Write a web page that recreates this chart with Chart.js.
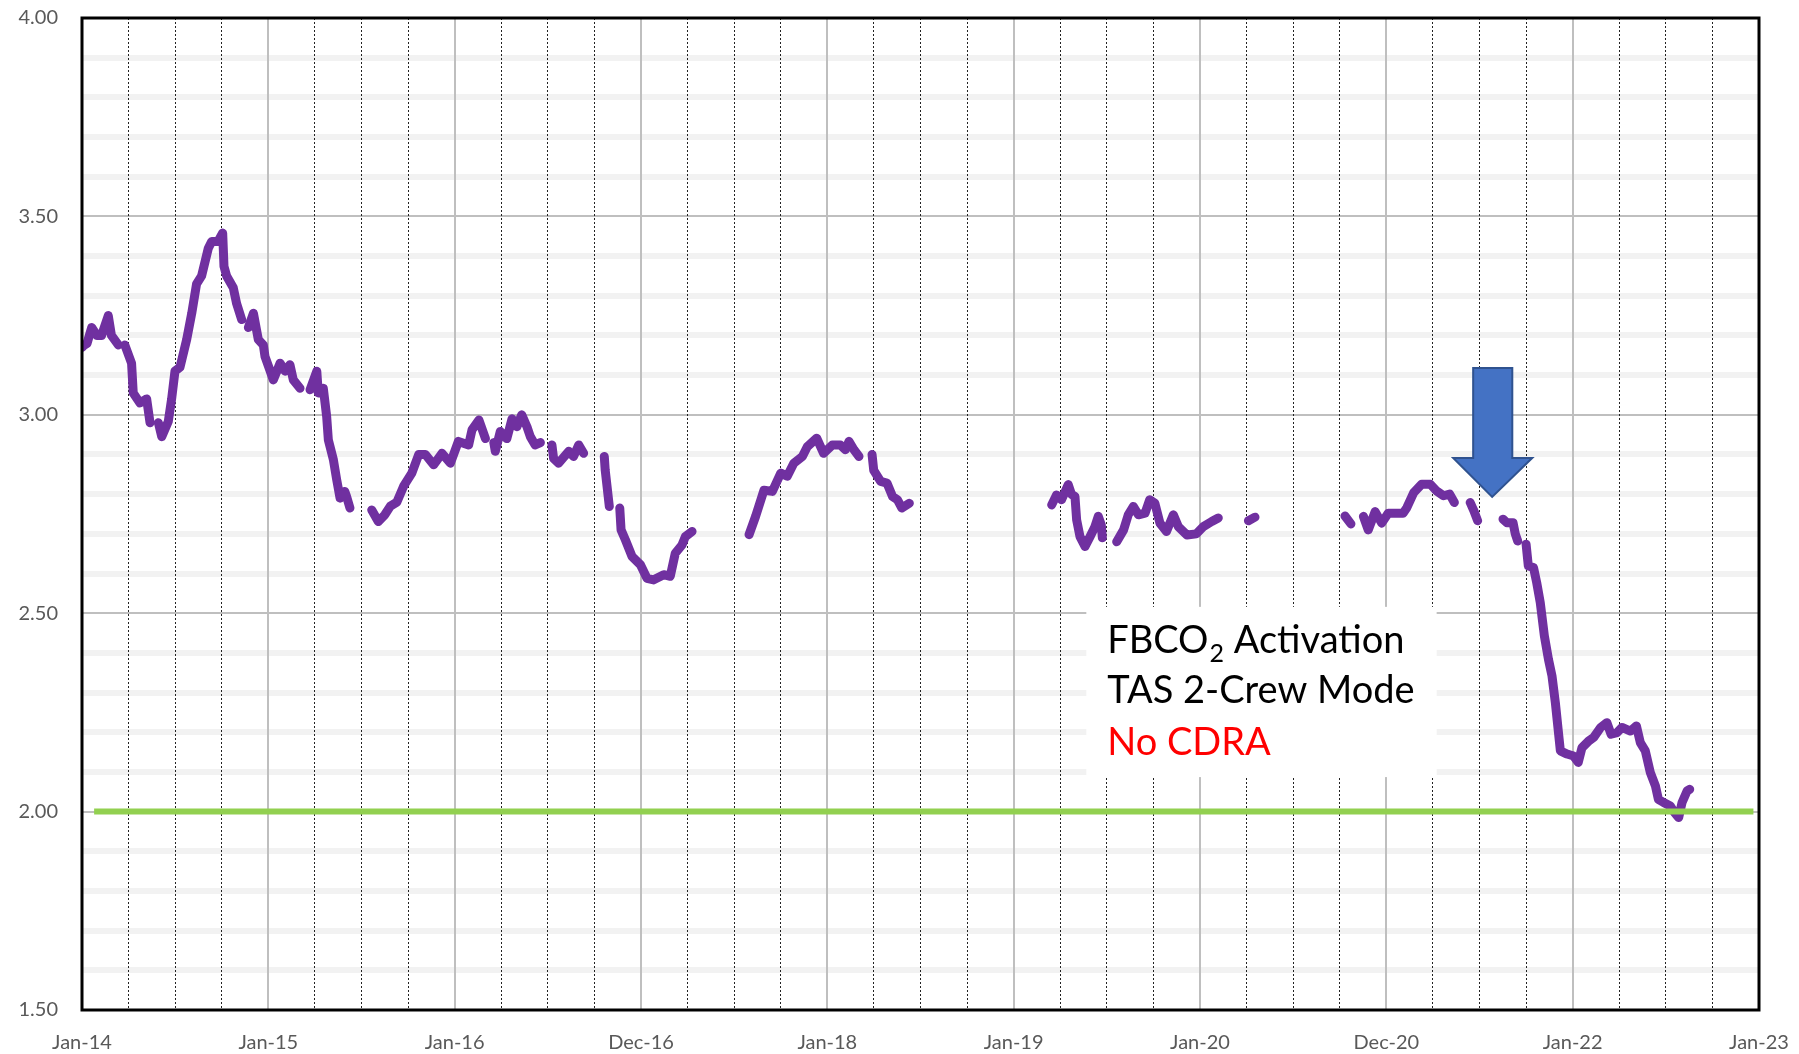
<!DOCTYPE html>
<html>
<head>
<meta charset="utf-8">
<script src="https://cdn.jsdelivr.net/npm/chart.js@4.4.1/dist/chart.umd.min.js"></script>
<style>
  body { margin: 0; background: #fff; }
  canvas { display: block; }
</style>
</head>
<body>
<canvas id="myChart" width="1799" height="1054"></canvas>
<script>
// years since Jan-2014, null = gap in the record
const ppco2Years = [
  0, 0.01, 0.027, 0.052, 0.08, 0.105, 0.141, 0.158, 0.195, 0.21,
  0.23, 0.266, 0.275, 0.311, 0.347, 0.365, 0.39,
  0.41, 0.428, 0.463, 0.481, 0.499, 0.526, 0.562, 0.589, 0.615, 0.642, 0.678, 0.696,
  0.73, 0.755, 0.762, 0.776, 0.812, 0.83, 0.857, 0.875,
  0.893, 0.92, 0.946, 0.973, 0.982, 1.027, 1.063, 1.09, 1.116, 1.134, 1.17, 1.2,
  1.224, 1.26, 1.268, 1.295, 1.313, 1.322, 1.349, 1.367, 1.385, 1.41, 1.42, 1.438, 1.5,
  1.555, 1.59, 1.625, 1.655, 1.69, 1.726, 1.77, 1.807, 1.843, 1.887, 1.932, 1.977, 2.02, 2.075, 2.093, 2.13, 2.165, 2.19,
  2.21, 2.218, 2.245, 2.28, 2.308, 2.334, 2.36, 2.388, 2.406, 2.432, 2.46, 2.49,
  2.522, 2.531, 2.558, 2.612, 2.638, 2.666, 2.692, 2.75,
  2.803, 2.808, 2.83, 2.86,
  2.886, 2.893, 2.916, 2.952, 2.997, 3.032, 3.068, 3.122, 3.157, 3.184, 3.22, 3.238, 3.274, 3.4,
  3.58, 3.615, 3.66, 3.705, 3.75, 3.785, 3.82, 3.866, 3.893, 3.943, 3.98, 4.027, 4.07, 4.097, 4.116, 4.143, 4.17, 4.2,
  4.24, 4.249, 4.286, 4.32, 4.35, 4.376, 4.4, 4.44, 4.8,
  5.204, 5.23, 5.257, 5.293, 5.31, 5.329, 5.338, 5.356, 5.383, 5.41, 5.436, 5.454, 5.47, 5.476, 5.51,
  5.553, 5.59, 5.615, 5.642, 5.67, 5.705, 5.73, 5.758, 5.785, 5.82, 5.857, 5.884, 5.93, 5.98, 6.018, 6.063, 6.098, 6.2,
  6.26, 6.295, 6.5,
  6.778, 6.81, 6.84,
  6.877, 6.903, 6.94, 6.975, 7.01, 7.055, 7.09, 7.11, 7.147, 7.19, 7.236, 7.27, 7.307, 7.34, 7.365, 7.4,
  7.45, 7.47, 7.49, 7.56,
  7.626, 7.647, 7.68, 7.692, 7.705, 7.73,
  7.75, 7.762, 7.79, 7.807, 7.826, 7.848, 7.87, 7.889, 7.907, 7.92, 7.934, 7.97, 8.005, 8.03, 8.05, 8.086,
  8.113, 8.15, 8.184, 8.206, 8.238, 8.265, 8.31, 8.342, 8.363, 8.39, 8.417, 8.444, 8.46, 8.488, 8.524, 8.546,
  8.569, 8.587, 8.614, 8.628
];
const ppco2Values = [
  3.17, 3.175, 3.18, 3.22, 3.20, 3.20, 3.25, 3.20, 3.176, null,
  3.176, 3.13, 3.055, 3.03, 3.04, 2.98, null,
  2.98, 2.945, 2.983, 3.04, 3.11, 3.12, 3.19, 3.256, 3.33, 3.35, 3.42, 3.437,
  3.437, 3.458, 3.374, 3.35, 3.32, 3.28, 3.24, null,
  3.22, 3.256, 3.19, 3.176, 3.147, 3.088, 3.13, 3.11, 3.126, 3.088, 3.067, null,
  3.063, 3.11, 3.055, 3.067, 2.996, 2.937, 2.887, 2.836, 2.79, 2.807, 2.794, 2.765, null,
  2.76, 2.731, 2.748, 2.77, 2.78, 2.82, 2.853, 2.90, 2.90, 2.874, 2.903, 2.878, 2.933, 2.924, 2.962, 2.987, 2.94, null,
  2.93, 2.908, 2.958, 2.94, 2.99, 2.97, 3.0, 2.97, 2.945, 2.924, 2.93, null,
  2.924, 2.89, 2.878, 2.908, 2.895, 2.924, 2.903, null,
  2.895, 2.86, 2.769, null,
  2.765, 2.71, 2.685, 2.643, 2.622, 2.588, 2.584, 2.597, 2.593, 2.651, 2.672, 2.693, 2.706, null,
  2.698, 2.744, 2.81, 2.807, 2.853, 2.845, 2.878, 2.895, 2.92, 2.941, 2.903, 2.924, 2.924, 2.912, 2.933, 2.912, 2.895, null,
  2.90, 2.86, 2.832, 2.828, 2.794, 2.786, 2.765, 2.777, null,
  2.773, 2.798, 2.786, 2.824, 2.80, 2.794, 2.735, 2.693, 2.668, 2.693, 2.718, 2.744, 2.723, 2.69, null,
  2.68, 2.71, 2.748, 2.769, 2.748, 2.752, 2.786, 2.777, 2.727, 2.706, 2.748, 2.718, 2.697, 2.70, 2.718, 2.731, 2.74, null,
  2.733, 2.742, null,
  2.745, 2.725, null,
  2.744, 2.71, 2.756, 2.727, 2.752, 2.752, 2.752, 2.766, 2.804, 2.825, 2.825, 2.808, 2.796, 2.80, 2.779, null,
  2.779, 2.758, 2.733, null,
  2.737, 2.728, 2.728, 2.70, 2.682, null,
  2.674, 2.619, 2.615, 2.577, 2.527, 2.443, 2.384, 2.342, 2.275, 2.216, 2.153, 2.145, 2.14, 2.124, 2.161, 2.178,
  2.187, 2.212, 2.224, 2.195, 2.199, 2.212, 2.203, 2.216, 2.174, 2.153, 2.098, 2.065, 2.031, 2.023, 2.014, 1.998,
  1.985, 2.023, 2.052, 2.056
];

const limitValue = 2.0;
const limitYears = [0.065, 8.97];

const xTickLabels = ['Jan-14', 'Jan-15', 'Jan-16', 'Dec-16', 'Jan-18', 'Jan-19', 'Jan-20', 'Dec-20', 'Jan-22', 'Jan-23'];
const noteLines = ['Activation', 'TAS 2-Crew Mode', 'No CDRA'];

const isMajorY = v => Math.abs(v * 2 - Math.round(v * 2)) < 1e-6;
const isYear = v => Math.abs(v - Math.round(v)) < 1e-6;

const notePlugin = {
  id: 'notes',
  afterDatasetsDraw(chart) {
    const ctx = chart.ctx;
    const x = chart.scales.x, y = chart.scales.y;

    // white text box
    const bx0 = x.getPixelForValue(5.39), bx1 = x.getPixelForValue(7.27);
    const by0 = y.getPixelForValue(2.516), by1 = y.getPixelForValue(2.087);
    ctx.save();
    ctx.fillStyle = '#fff';
    ctx.fillRect(bx0, by0, bx1 - bx0, by1 - by0);

    const tx = x.getPixelForValue(5.502);
    ctx.textBaseline = 'alphabetic';
    ctx.fillStyle = '#000';
    ctx.font = '38px Lato';
    ctx.fillText('FBCO', tx, y.getPixelForValue(2.40));
    let w = ctx.measureText('FBCO').width;
    ctx.font = '25px Lato';
    ctx.fillText('2', tx + w + 1, y.getPixelForValue(2.40) + 9);
    w += ctx.measureText('2').width + 1;
    ctx.font = '38px Lato';
    ctx.fillText(' ' + noteLines[0], tx + w, y.getPixelForValue(2.40));
    ctx.fillText(noteLines[1], tx, y.getPixelForValue(2.274));
    ctx.fillStyle = '#ff0000';
    ctx.fillText(noteLines[2], tx, y.getPixelForValue(2.143));

    // blue arrow
    const sx0 = x.getPixelForValue(7.466), sx1 = x.getPixelForValue(7.676);
    const hx0 = x.getPixelForValue(7.359), hx1 = x.getPixelForValue(7.783);
    const tipX = x.getPixelForValue(7.568);
    const top = y.getPixelForValue(3.118), base = y.getPixelForValue(2.891), tip = y.getPixelForValue(2.793);
    ctx.beginPath();
    ctx.moveTo(sx0, top);
    ctx.lineTo(sx1, top);
    ctx.lineTo(sx1, base);
    ctx.lineTo(hx1, base);
    ctx.lineTo(tipX, tip);
    ctx.lineTo(hx0, base);
    ctx.lineTo(sx0, base);
    ctx.closePath();
    ctx.fillStyle = '#4472C4';
    ctx.fill();
    ctx.strokeStyle = '#2F528F';
    ctx.lineWidth = 2;
    ctx.stroke();
    ctx.restore();
  },
  afterDraw(chart) {
    const a = chart.chartArea, ctx = chart.ctx;
    ctx.save();
    ctx.strokeStyle = '#000';
    ctx.lineWidth = 3;
    ctx.strokeRect(a.left, a.top, a.right - a.left, a.bottom - a.top);
    ctx.restore();
  }
};

const ctx = document.getElementById('myChart').getContext('2d');
const myChart = new Chart(ctx, {
  type: 'line',
  data: {
    datasets: [{
      label: 'Limit',
      data: limitYears.map(t => ({ x: t, y: limitValue })),
      borderColor: '#92D050',
      borderWidth: 6,
      pointRadius: 0,
    }, {
      label: 'ppCO2',
      data: ppco2Years.map((t, i) => ({ x: t, y: ppco2Values[i] })),
      borderColor: '#7030A0',
      borderWidth: 9,
      borderCapStyle: 'round',
      borderJoinStyle: 'round',
      pointRadius: 0,
      spanGaps: false,
    }]
  },
  options: {
    responsive: false,
    animation: false,
    events: [],
    layout: { padding: { top: 18, right: 40, left: 0, bottom: 0 } },
    plugins: { legend: { display: false }, tooltip: { enabled: false } },
    scales: {
      x: {
        type: 'linear',
        min: 0,
        max: 9,
        afterFit: s => { s.height = 44; s.paddingLeft = 0; s.paddingRight = 0; },
        ticks: {
          stepSize: 0.25,
          autoSkip: false,
          maxRotation: 0,
          padding: 21,
          color: '#595959',
          font: { family: 'Lato', size: 20 },
          callback: v => isYear(v) ? xTickLabels[Math.round(v)] : ''
        },
        grid: {
          drawTicks: false,
          z: 0,
          color: c => isYear(c.tick.value) ? '#bfbfbf' : '#222',
          lineWidth: c => isYear(c.tick.value) ? 2 : 1
        },
        border: {
          display: false,
          dash: c => (c.tick && !isYear(c.tick.value)) ? [2, 2] : []
        }
      },
      y: {
        min: 1.5,
        max: 4,
        afterFit: s => { s.width = 82; s.paddingTop = 0; s.paddingBottom = 0; },
        ticks: {
          stepSize: 0.1,
          autoSkip: false,
          padding: 24,
          color: '#595959',
          font: { family: 'Lato', size: 20 },
          callback: v => isMajorY(v) ? v.toFixed(2) : ''
        },
        grid: {
          drawTicks: false,
          z: -1,
          color: c => isMajorY(c.tick.value) ? '#bfbfbf' : '#f2f2f2',
          lineWidth: c => isMajorY(c.tick.value) ? 2 : 6
        },
        border: { display: false }
      }
    }
  },
  plugins: [notePlugin]
});
</script>
</body>
</html>
